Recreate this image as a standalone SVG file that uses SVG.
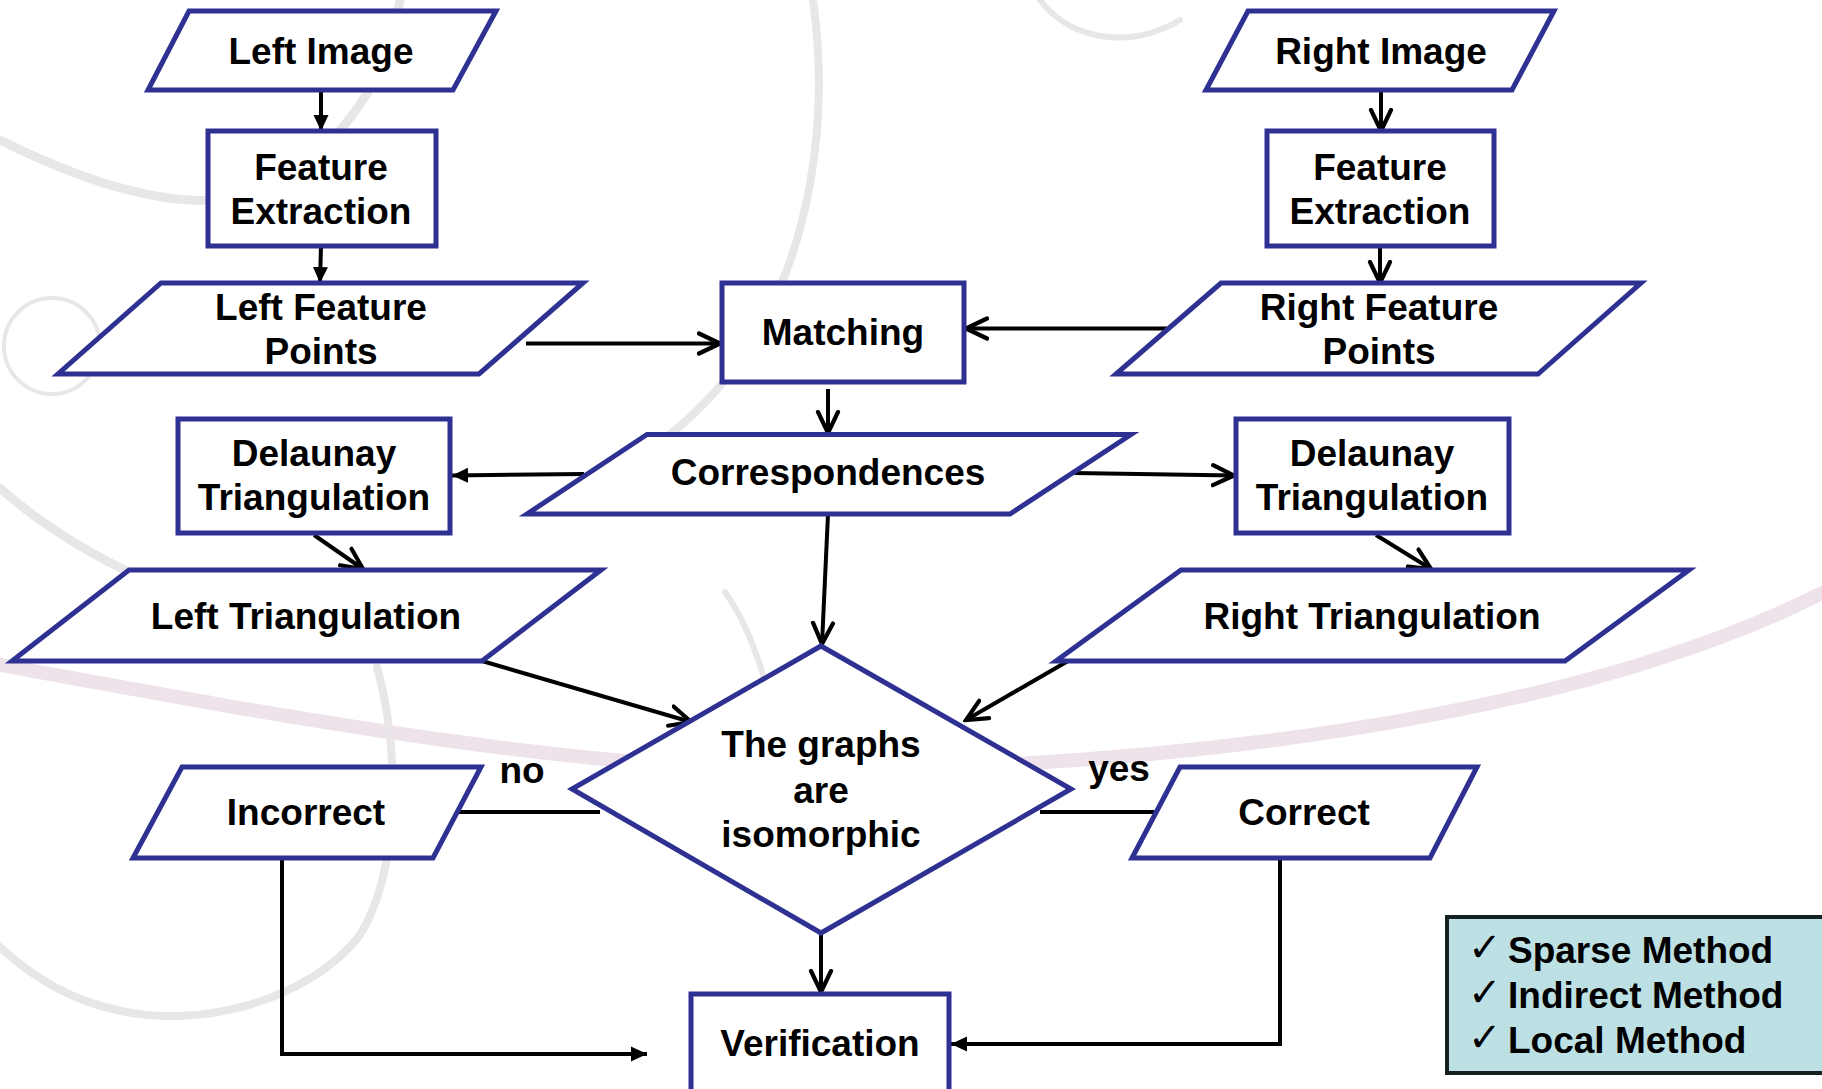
<svg xmlns="http://www.w3.org/2000/svg" width="1822" height="1089" viewBox="0 0 1822 1089">
<style>
.node{fill:#ffffff;stroke:#2e3192;stroke-width:5;stroke-linejoin:miter}
.t{font-family:"Liberation Sans",Arial,sans-serif;font-weight:bold;font-size:37px;fill:#000;text-anchor:middle}
.lt{font-family:"Liberation Sans",Arial,sans-serif;font-weight:bold;font-size:37px;fill:#000}
.ck{font-family:"DejaVu Sans",sans-serif;font-size:40px;fill:#000}
.c{fill:none;stroke:#000;stroke-width:4}
.co{marker-end:url(#open)}
.cf{marker-end:url(#fill)}
.bg{fill:none;stroke:#e9e6e9;stroke-linecap:round}
.bp{fill:none;stroke:#eee3ea;stroke-linecap:round}
</style>
<defs>
<marker id="open" markerUnits="userSpaceOnUse" markerWidth="26" markerHeight="26" viewBox="0 0 26 26" refX="23" refY="13" orient="auto">
<path d="M2,3 L23,13 L2,23" fill="none" stroke="#000" stroke-width="4.2" stroke-linecap="round" stroke-linejoin="miter"/>
</marker>
<marker id="fill" markerUnits="userSpaceOnUse" markerWidth="17" markerHeight="16" viewBox="0 0 17 16" refX="16" refY="8" orient="auto">
<path d="M0,0.5 L16,8 L0,15.5 z" fill="#000"/>
</marker>
</defs>
<rect x="0" y="0" width="1822" height="1089" fill="#ffffff"/>
<g id="background">
<path class="bg" stroke-width="9" d="M0,140 C70,175 150,205 220,200 C290,195 350,130 380,70 C390,45 397,20 400,0"/>
<path class="bg" stroke-width="8" d="M813,0 C830,120 810,250 750,345 C720,392 690,420 650,450"/>
<path class="bg" stroke-width="6" d="M1040,0 C1070,40 1130,50 1180,20"/>
<circle class="bg" stroke-width="4" cx="52" cy="346" r="48"/>
<path class="bg" stroke-width="9" d="M0,488 C80,560 200,610 320,640"/>
<path class="bp" stroke-width="14" d="M0,665 C300,720 600,775 850,770 C1150,765 1560,725 1822,593"/>
<path class="bg" stroke-width="8" d="M377,667 C400,750 400,870 360,935 C310,1000 200,1030 117,1010 C70,1000 30,975 0,947"/>
<path class="bg" stroke-width="6" d="M725,592 C745,620 760,660 770,700"/>
</g>
<g id="connectors">
<path class="c cf" d="M321,90 L321,131"/>
<path class="c cf" d="M321,246 L320,283"/>
<path class="c co" d="M1381,90 L1381,131"/>
<path class="c co" d="M1380,246 L1380,283"/>
<path class="c co" d="M526,343.5 L720,343.5"/>
<path class="c co" d="M1167,328.5 L966,328.5"/>
<path class="c co" d="M828,389 L828,433"/>
<path class="c cf" d="M584,474 L452,475.5"/>
<path class="c co" d="M1074,473 L1234,475.5"/>
<path class="c co" d="M314,535 L363,569"/>
<path class="c co" d="M1376,535 L1431,569"/>
<path class="c co" d="M828,514 L822,644"/>
<path class="c co" d="M482,661 L691,722"/>
<path class="c co" d="M1068,661 L966,720"/>
<path class="c co" d="M821,933 L821,992"/>
<path class="c" stroke-width="4.5" d="M457,812 L600,812"/>
<path class="c" stroke-width="4.5" d="M1040,812 L1154,812"/>
<path class="c cf" d="M282,858 L282,1054 L647,1054"/>
<path class="c cf" d="M1280,858 L1280,1044 L951,1044"/>
<text class="t" x="522" y="783">no</text>
<text class="t" x="1119" y="781">yes</text>
</g>
<g id="left-image">
<polygon class="node" points="189,11 496,11 453,90 148,90"/>
<text class="t" x="321" y="64">Left Image</text>
</g>
<g id="right-image">
<polygon class="node" points="1248,11 1554,11 1512,90 1206,90"/>
<text class="t" x="1381" y="64">Right Image</text>
</g>
<g id="left-feature-extraction">
<rect class="node" x="208" y="131" width="228" height="115"/>
<text class="t" x="321" y="180">Feature</text>
<text class="t" x="321" y="224">Extraction</text>
</g>
<g id="right-feature-extraction">
<rect class="node" x="1267" y="131" width="227" height="115"/>
<text class="t" x="1380" y="180">Feature</text>
<text class="t" x="1380" y="224">Extraction</text>
</g>
<g id="left-feature-points">
<polygon class="node" points="161,283 583,283 479,374 58,374"/>
<text class="t" x="321" y="320">Left Feature</text>
<text class="t" x="321" y="364">Points</text>
</g>
<g id="right-feature-points">
<polygon class="node" points="1221,283 1641,283 1538,374 1116,374"/>
<text class="t" x="1379" y="320">Right Feature</text>
<text class="t" x="1379" y="364">Points</text>
</g>
<g id="matching">
<rect class="node" x="722" y="283" width="242" height="99"/>
<text class="t" x="843" y="345">Matching</text>
</g>
<g id="correspondences">
<polygon class="node" points="647,434.5 1131,434.5 1010,514 527,514"/>
<text class="t" x="828" y="485">Correspondences</text>
</g>
<g id="left-delaunay">
<rect class="node" x="178" y="419" width="272" height="114"/>
<text class="t" x="314" y="466">Delaunay</text>
<text class="t" x="314" y="510">Triangulation</text>
</g>
<g id="right-delaunay">
<rect class="node" x="1236" y="419" width="273" height="114"/>
<text class="t" x="1372" y="466">Delaunay</text>
<text class="t" x="1372" y="510">Triangulation</text>
</g>
<g id="left-triangulation">
<polygon class="node" points="129,570 601,570 482,661 12,661"/>
<text class="t" x="306" y="629">Left Triangulation</text>
</g>
<g id="right-triangulation">
<polygon class="node" points="1181,570 1689,570 1565,661 1056,661"/>
<text class="t" x="1372" y="629">Right Triangulation</text>
</g>
<g id="isomorphic-decision">
<polygon class="node" points="821,646 1071,789 821,933 572,789"/>
<text class="t" x="821" y="757">The graphs</text>
<text class="t" x="821" y="803">are</text>
<text class="t" x="821" y="847">isomorphic</text>
</g>
<g id="incorrect">
<polygon class="node" points="182,767 481,767 433,858 133,858"/>
<text class="t" x="306" y="825">Incorrect</text>
</g>
<g id="correct">
<polygon class="node" points="1180,767 1477,767 1430,858 1132,858"/>
<text class="t" x="1304" y="825">Correct</text>
</g>
<g id="verification">
<rect class="node" x="691" y="994" width="258" height="120"/>
<text class="t" x="820" y="1056">Verification</text>
</g>
<g id="legend">
<rect x="1447" y="917" width="400" height="156" fill="#bde0e4" stroke="#132121" stroke-width="4"/>
<text class="ck" x="1468" y="961">✓</text>
<text class="lt" x="1508" y="963">Sparse Method</text>
<text class="ck" x="1468" y="1006">✓</text>
<text class="lt" x="1508" y="1008">Indirect Method</text>
<text class="ck" x="1468" y="1051">✓</text>
<text class="lt" x="1508" y="1053">Local Method</text>
</g>
</svg>
